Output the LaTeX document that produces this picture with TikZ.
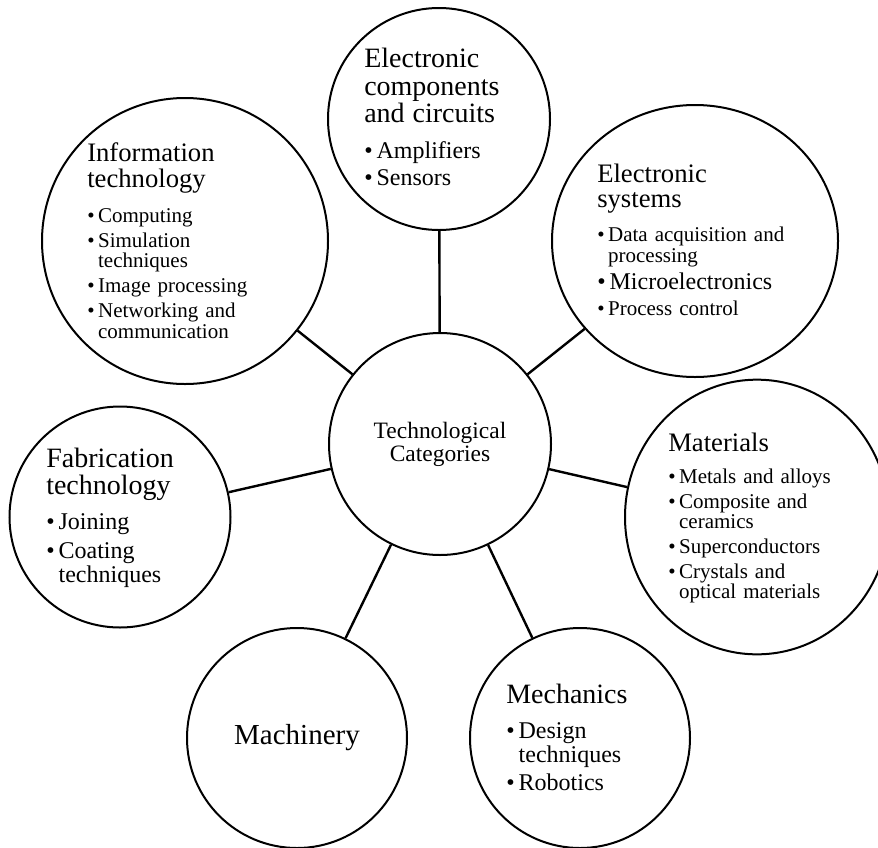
\documentclass[tikz,border=0pt]{standalone}
\usepackage{fontspec}
\setmainfont{Liberation Serif}
\usetikzlibrary{shapes.geometric}

\newcommand{\hdfont}{\fontsize{20}{19}\selectfont}
\newcommand{\hdbigfont}{\fontsize{21}{20.6}\selectfont}
\newcommand{\smfont}{\fontsize{15.75}{15.5}\selectfont}
\newcommand{\bgfont}{\fontsize{18}{18}\selectfont}
\newcommand{\bul}{\textbullet\,}
\newcommand{\ind}{\hphantom{\textbullet\,}}

\begin{document}
\begin{tikzpicture}[
    x=0.75pt, y=-0.75pt,
    bubble/.style={circle, draw, line width=1.5pt, inner sep=0pt},
    oval/.style={ellipse, draw, line width=1.5pt, inner sep=0pt},
    blurb/.style={anchor=west, align=left, text width=150pt, inner sep=0pt},
    link/.style={line width=1.8pt},
]
\useasboundingbox (0,0) rectangle (878,847);

% Circles
\node[bubble, minimum size=166.5pt, align=center, font=\fontsize{17.6}{17.25}\selectfont] (core) at (440,444) {Technological\\Categories};
\node[bubble, minimum size=166.5pt] (comp) at (439,119) {};
\node[bubble, minimum size=214.5pt] (info) at (185,241) {};
\node[oval, minimum width=214.5pt, minimum height=204pt] (sys) at (695,241) {};
\node[oval, minimum width=198pt, minimum height=206pt] (mat) at (757,517) {};
\node[bubble, minimum size=165.75pt] (fab) at (120,517) {};
\node[bubble, minimum size=165pt, font=\fontsize{21.75}{22}\selectfont] (mach) at (297,738) {Machinery};
\node[bubble, minimum size=165pt] (mech) at (580,738) {};

% Texts
\node[blurb, font=\bgfont] (comptext) at (364,117) {{\hdbigfont Electronic\\components\\and circuits\\[9pt]}\bul Amplifiers\\[2.25pt]\bul Sensors};
\node[blurb, font=\smfont] (infotext) at (87,241) {{\hdfont Information\\technology\\[10.75pt]}\bul Computing\\[3.25pt]\bul Simulation\\\ind techniques\\[3.25pt]\bul Image processing\\[3.25pt]\bul Networking and\\\ind communication};
\node[blurb, font=\smfont] (systext) at (597,240) {{\hdfont Electronic\\systems\\[10pt]}\bul Data acquisition and\\\ind processing\\[2.25pt]{\bgfont\bul Microelectronics\\[4pt]}\bul Process control};
\node[blurb, font=\smfont] (mattext) at (668,518) {{\hdfont Materials\\[8.5pt]}\bul Metals and alloys\\[3pt]\bul Composite and\\\ind ceramics\\[3pt]\bul Superconductors\\[3pt]\bul Crystals and\\\ind optical materials};
\node[blurb, font=\bgfont] (fabtext) at (46,518) {{\hdbigfont Fabrication\\technology\\[8.25pt]}\bul Joining\\[3.75pt]\bul Coating\\\ind techniques};
\node[blurb, font=\bgfont] (mechtext) at (506,737) {{\hdbigfont Mechanics\\[8.25pt]}\bul Design\\\ind techniques\\[3pt]\bul Robotics};

% Links
\draw[link] (core) -- (comp);
\draw[link] (core) -- (info);
\draw[link] (core) -- (sys);
\draw[link] (core) -- (mat);
\draw[link] (core) -- (fab);
\draw[link] (core) -- (mach);
\draw[link] (core) -- (mech);

\end{tikzpicture}
\end{document}
